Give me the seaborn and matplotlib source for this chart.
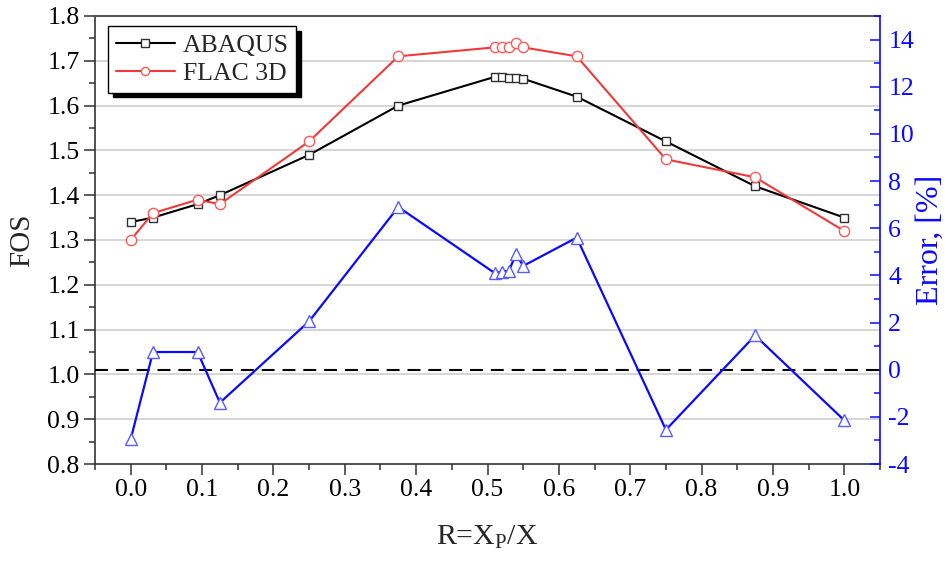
import matplotlib
matplotlib.use("Agg")
import matplotlib.pyplot as plt
from matplotlib.ticker import MultipleLocator, FormatStrFormatter
import pandas as pd
import seaborn as sns

# Pile position ratio R = Xp / X
ratio = [0.0, 0.03125, 0.09375, 0.125, 0.25, 0.375, 0.51, 0.52, 0.53, 0.54, 0.55,
         0.625, 0.75, 0.875, 1.0]
# Factor of safety from each code
fos_abaqus = [1.34, 1.35, 1.38, 1.40, 1.49, 1.60, 1.664, 1.664, 1.662, 1.661, 1.660,
              1.62, 1.52, 1.42, 1.35]
fos_flac = [1.30, 1.36, 1.39, 1.38, 1.52, 1.71, 1.73, 1.73, 1.73, 1.74, 1.73,
            1.71, 1.48, 1.44, 1.32]
# Relative difference between the two codes, %
error_pct = [-2.95, 0.75, 0.75, -1.40, 2.05, 6.90, 4.10, 4.15, 4.20, 4.90, 4.40,
             5.60, -2.55, 1.45, -2.15]

series_names = ["ABAQUS", "FLAC 3D"]
x_label = "R=X$_\\mathrm{P}$/X"
y_label = "FOS"
y2_label = "Error, [%]"

df = pd.DataFrame({"R": ratio, "ABAQUS": fos_abaqus, "FLAC 3D": fos_flac,
                   "Error": error_pct})

sns.set_style("ticks")
plt.rcParams["font.family"] = ["Liberation Serif", "DejaVu Serif"]
plt.rcParams["mathtext.fontset"] = "custom"
plt.rcParams["mathtext.rm"] = "Liberation Serif"
plt.rcParams["mathtext.it"] = "Liberation Serif:italic"
plt.rcParams["axes.unicode_minus"] = False

BLUE = "#0a0aff"
RED = "#f03a3a"

fig = plt.figure(figsize=(9.51, 5.61), dpi=100)
ax = fig.add_axes([95 / 951, 1 - 464 / 561, 785 / 951, 448 / 561])
ax2 = ax.twinx()

# horizontal guide lines at the major FOS ticks
for yv in [0.9, 1.0, 1.1, 1.2, 1.3, 1.4, 1.5, 1.6, 1.7]:
    ax.axhline(yv, color="#d2d2d2", lw=1.3, zorder=0)

sns.lineplot(data=df, x="R", y="ABAQUS", ax=ax, color="black", lw=1.5,
             marker="s", markersize=6.4, markerfacecolor="white",
             markeredgecolor="#303030", markeredgewidth=1.0,
             label="ABAQUS", estimator=None, zorder=3)
sns.lineplot(data=df, x="R", y="FLAC 3D", ax=ax, color=RED, lw=1.5,
             marker="o", markersize=7.4, markerfacecolor="white",
             markeredgecolor="#ff5a5a", markeredgewidth=1.0,
             label="FLAC 3D", estimator=None, zorder=3)

ax2.axhline(0, color="black", lw=1.5, dashes=(6.2, 3.8), zorder=1)
sns.lineplot(data=df, x="R", y="Error", ax=ax2, color=BLUE, lw=1.6,
             marker="^", markersize=8.6, markerfacecolor="white",
             markeredgecolor="#5a5aff", markeredgewidth=1.0,
             estimator=None, legend=False, zorder=3)

ax.set_xlim(-0.05, 1.05)
ax.set_ylim(0.8, 1.8)
ax2.set_ylim(-4, 15)

ax.xaxis.set_major_locator(MultipleLocator(0.1))
ax.xaxis.set_minor_locator(MultipleLocator(0.05))
ax.yaxis.set_major_locator(MultipleLocator(0.1))
ax.yaxis.set_minor_locator(MultipleLocator(0.05))
ax2.yaxis.set_major_locator(MultipleLocator(2))
ax2.yaxis.set_minor_locator(MultipleLocator(1))
ax.xaxis.set_major_formatter(FormatStrFormatter("%.1f"))
ax.yaxis.set_major_formatter(FormatStrFormatter("%.1f"))
ax2.yaxis.set_major_formatter(FormatStrFormatter("%d"))

ax.tick_params(axis="both", which="major", direction="out", length=8, width=1.1,
               labelsize=18.5, color="#333333", labelcolor="black", pad=3)
ax.tick_params(axis="both", which="minor", direction="out", length=4.5, width=1.1,
               color="#333333")
ax.tick_params(axis="y", which="both", right=False)
ax2.tick_params(axis="y", which="major", direction="in", length=7.5, width=1.1,
                labelsize=18.5, color=BLUE, labelcolor=BLUE, pad=6)
ax2.tick_params(axis="y", which="minor", direction="in", length=4, width=1.1,
                color=BLUE)

for side in ["left", "bottom"]:
    ax.spines[side].set_color("#333333")
    ax.spines[side].set_linewidth(1.2)
ax.spines["top"].set_visible(True)
ax.spines["top"].set_color("#555555")
ax.spines["top"].set_linewidth(1.5)
ax.spines["right"].set_visible(False)
ax2.spines["right"].set_color(BLUE)
ax2.spines["right"].set_linewidth(1.2)
ax2.spines["top"].set_visible(False)
ax2.spines["left"].set_visible(False)
ax2.spines["bottom"].set_visible(False)

ax.set_xlabel(x_label, fontsize=21.5, labelpad=16)
ax.set_ylabel(y_label, fontsize=21, labelpad=9)
ax2.set_ylabel(y2_label, fontsize=23, color=BLUE, labelpad=1)

handles, labels = ax.get_legend_handles_labels()
if ax.legend_:
    ax.legend_.remove()
leg = ax2.legend(handles, series_names, loc="upper left",
                 bbox_to_anchor=(13 / 785, 1 - 10 / 448), borderaxespad=0,
                 fontsize=18.5, frameon=True, fancybox=False, framealpha=1,
                 edgecolor="black", handlelength=2.3, handletextpad=0.3,
                 labelspacing=0.2, borderpad=0.3, markerscale=0.8,
                 shadow={"ox": 3.5, "oy": -3.5, "shade": 1.0, "alpha": 1.0})
leg.get_frame().set_linewidth(1.0)

fig.savefig("out.png", dpi=100)
